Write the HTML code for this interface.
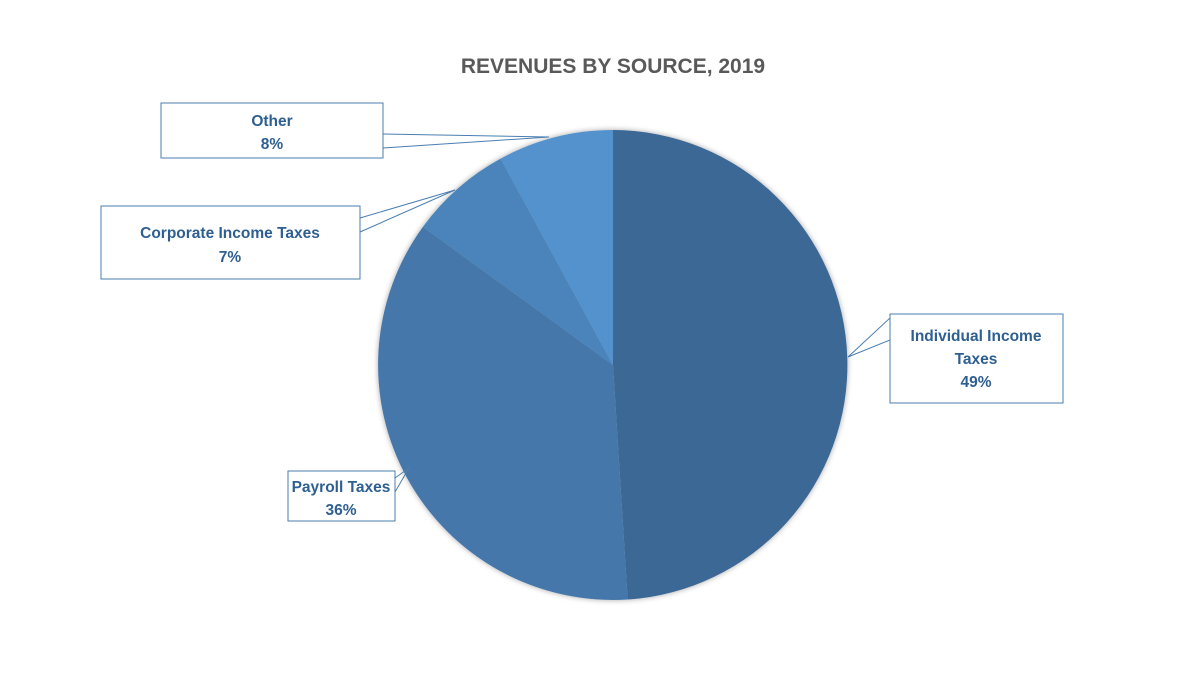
<!DOCTYPE html>
<html><head><style>
body{margin:0;background:#fff;}
svg text{font-family:"Liberation Sans",sans-serif;font-weight:bold;}
</style></head><body>
<svg width="1200" height="675" viewBox="0 0 1200 675">
<defs><filter id="sh" x="-10%" y="-10%" width="120%" height="120%"><feGaussianBlur in="SourceAlpha" stdDeviation="3"/><feOffset dx="0" dy="0"/><feComponentTransfer><feFuncA type="linear" slope="0.35"/></feComponentTransfer><feMerge><feMergeNode/><feMergeNode in="SourceGraphic"/></feMerge></filter></defs>
<rect width="1200" height="675" fill="#fff"/>
<text x="613" y="73" text-anchor="middle" font-size="21" fill="#595959">REVENUES BY SOURCE, 2019</text>
<g filter="url(#sh)">
<path d="M613,365 L613,130 A235,235 0 0 1 627.7,599.5 Z" fill="#3b6894"/>
<path d="M613,365 L627.7,599.5 A235,235 0 0 1 422.9,226.9 Z" fill="#4577aa"/>
<path d="M613,365 L422.9,226.9 A235,235 0 0 1 500.6,158.6 Z" fill="#4b84ba"/>
<path d="M613,365 L500.6,158.6 A235,235 0 0 1 613,130 Z" fill="#5292cc"/>
</g>
<g fill="#fff" stroke="#4a7eb0" stroke-width="1">
<polyline points="383,134 549,137 383,148" fill="none"/>
<rect x="161" y="103" width="222" height="55"/>
<polyline points="360,218 455,190 360,232" fill="none"/>
<rect x="101" y="206" width="259" height="73"/>
<polyline points="890,318 848,357 890,340" fill="none"/>
<rect x="890" y="314" width="173" height="89"/>
<polyline points="395,478 409,468 395,492" fill="none"/>
<rect x="288" y="471" width="107" height="50"/>
</g>
<g fill="#2e5f91" font-size="15.5" text-anchor="middle">
<text x="272" y="126">Other</text><text x="272" y="149">8%</text>
<text x="230" y="238">Corporate Income Taxes</text><text x="230" y="262">7%</text>
<text x="976" y="341">Individual Income</text><text x="976" y="364">Taxes</text><text x="976" y="387">49%</text>
<text x="341" y="492">Payroll Taxes</text><text x="341" y="515">36%</text>
</g>
</svg>
</body></html>
